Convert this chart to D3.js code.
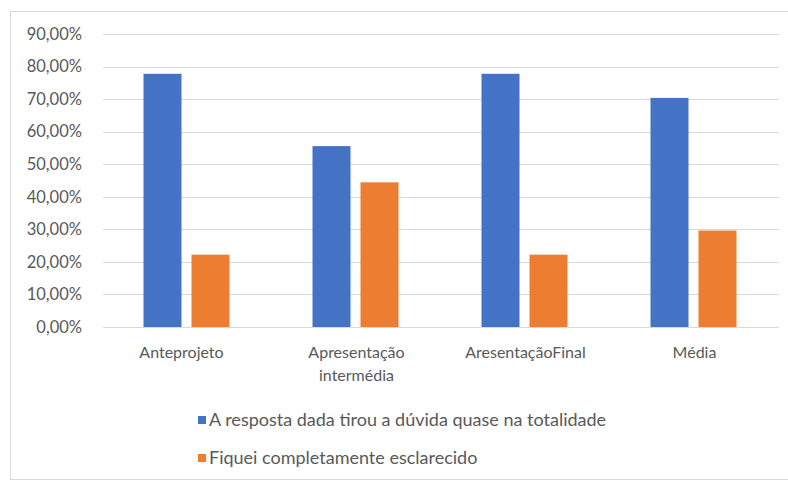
<!DOCTYPE html>
<html>
<head>
<meta charset="utf-8">
<script src="https://cdn.jsdelivr.net/npm/d3@7"></script>
<style>
body { margin: 0; background: #fff; }
text { font-family: Lato, "Open Sans", sans-serif; fill: #595959; }
</style>
</head>
<body>
<div id="chart"></div>
<script>
var categories = ["Anteprojeto", "Apresentação intermédia", "AresentaçãoFinal", "Média"];
var seriesNames = ["A resposta dada tirou a dúvida quase na totalidade", "Fiquei completamente esclarecido"];
var respostaQuase = [0.7778, 0.5556, 0.7778, 0.7037];
var esclarecido = [0.2222, 0.4444, 0.2222, 0.2963];
var yTicks = [0, 0.1, 0.2, 0.3, 0.4, 0.5, 0.6, 0.7, 0.8, 0.9];
var colors = ["#4472C4", "#ED7D31"];

var W = 788, H = 481;
var margin = {top: 34, left: 103, right: 9, bottom: 154};
var width = W - margin.left - margin.right,
    height = H - margin.top - margin.bottom;

var svg = d3.select("#chart").append("svg")
    .attr("width", W).attr("height", H);

// chart area border
svg.append("rect")
    .attr("x", 10.5).attr("y", 11.5)
    .attr("width", W).attr("height", 468)
    .attr("fill", "none").attr("stroke", "#d9d9d9");

var g = svg.append("g").attr("transform", "translate(" + margin.left + "," + margin.top + ")");

var x = d3.scaleBand().domain(categories).range([0, width]);
var y = d3.scaleLinear().domain([0, 0.9]).range([height, 0]);

var fmt = function(v) { return (v * 100).toFixed(2).replace(".", ",") + "%"; };

g.append("g")
    .selectAll("line")
    .data(yTicks)
    .enter().append("line")
    .attr("x1", 0).attr("x2", width)
    .attr("y1", function(d) { return Math.round(y(d)) + 0.5; })
    .attr("y2", function(d) { return Math.round(y(d)) + 0.5; })
    .attr("stroke", "#d9d9d9").attr("stroke-width", 1);

var yAxis = g.append("g")
    .call(d3.axisLeft(y).tickValues(yTicks).tickFormat(fmt).tickSize(0).tickPadding(21));
yAxis.select(".domain").remove();
yAxis.selectAll("text").style("font-size", "16.5px").attr("fill", "#595959");

var barW = 38, barGap = 10;
var series = [respostaQuase, esclarecido];

series.forEach(function(vals, si) {
    g.append("g")
        .selectAll("rect")
        .data(vals)
        .enter().append("rect")
        .attr("x", function(d, i) {
            var c = x(categories[i]) + x.bandwidth() / 2 - 1;
            return si == 0 ? c - barGap / 2 - barW : c + barGap / 2;
        })
        .attr("y", function(d) { return y(d); })
        .attr("width", barW)
        .attr("height", function(d) { return y(0) - y(d); })
        .attr("fill", colors[si]);
});

// category labels
var labelLines = [["Anteprojeto"], ["Apresentação", "intermédia"], ["AresentaçãoFinal"], ["Média"]];
categories.forEach(function(c, i) {
    var cx = x(c) + x.bandwidth() / 2 - (i == 0 ? 6 : 0);
    var t = g.append("text")
        .attr("x", cx)
        .attr("y", height + 31)
        .attr("text-anchor", "middle")
        .style("font-size", "16px");
    labelLines[i].forEach(function(line, li) {
        t.append("tspan")
            .attr("x", cx)
            .attr("dy", li == 0 ? 0 : 23)
            .text(line);
    });
});

// legend
var legend = svg.append("g");
seriesNames.forEach(function(name, i) {
    var ly = 420 + i * 38;
    legend.append("rect")
        .attr("x", 198).attr("y", ly - 4)
        .attr("width", 8).attr("height", 8)
        .attr("fill", colors[i]);
    legend.append("text")
        .attr("x", 209).attr("y", ly + 6)
        .style("font-size", "18px")
        .text(name);
});
</script>
</body>
</html>
